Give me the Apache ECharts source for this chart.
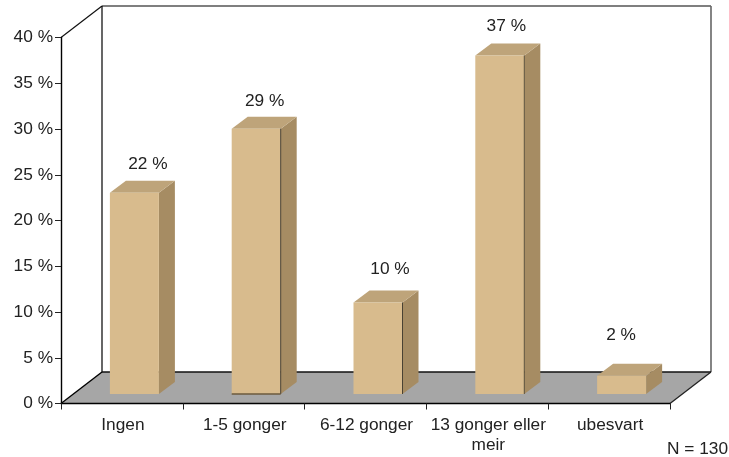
<!DOCTYPE html>
<html><head><meta charset="utf-8">
<style>html,body{margin:0;padding:0;background:#fff}#c{width:729px;height:457px}</style>
<script src="https://cdn.jsdelivr.net/npm/echarts@6/dist/echarts.min.js"></script>
</head><body><div id="c"></div>
<script>
const categories = ['Ingen', '1-5 gonger', '6-12 gonger', '13 gonger eller\nmeir', 'ubesvart'];
const values = [22, 29, 10, 37, 2];
const valueLabels = ['22 %', '29 %', '10 %', '37 %', '2 %'];
const yMax = 40;
const yStep = 5;
const footnote = 'N = 130';

// styling of the pseudo 3D box (pixels)
const wallDX = 41, wallDY = 31.5;
const barInDX = 12.5, barInDY = 9.5;
const barDX = 16, barDY = 12;
const barW = 49;
const labelShift = [[13.5, -16.5], [8.5, -15.5], [12, -21.5], [6.5, -17.5], [-0.5, -28.5]];
const edgeColor = [null, '#4a4233', '#4a4233', '#5a4f3a', null];
const FONT = '"Liberation Sans", Arial, Helvetica, sans-serif';
const FS = 17.3;
const TXT = '#222222';

const chart = echarts.init(document.getElementById('c'), null, {renderer: 'canvas'});
chart.setOption({
  animation: false,
  grid: {left: 61, top: 37.5, width: 609, height: 366, containLabel: false},
  xAxis: {
    type: 'category', data: categories,
    axisLine: {show: true, lineStyle: {color: '#000', width: 1.4}},
    axisTick: {show: true, length: 6, alignWithLabel: false, lineStyle: {color: '#222', width: 1}},
    axisLabel: {color: TXT, fontFamily: FONT, fontSize: FS, lineHeight: 20, margin: 12, interval: 0, padding: [0, 0, 0, 2]},
    z: 5
  },
  yAxis: {
    type: 'value', min: 0, max: yMax, interval: yStep,
    axisLine: {show: true, lineStyle: {color: '#000', width: 1.4}},
    axisTick: {show: true, length: 6, lineStyle: {color: '#222', width: 1}},
    axisLabel: {color: TXT, fontFamily: FONT, fontSize: FS, margin: 8, padding: [2, 0, 0, 0], formatter: v => v + ' %'},
    splitLine: {show: false}, z: 5
  },
  series: [
    {
      type: 'custom', coordinateSystem: 'cartesian2d', clip: false, z: 1, silent: true,
      data: [[0, 0]],
      renderItem(params) {
        const c = params.coordSys;
        const L = c.x, R = c.x + c.width, T = c.y, B = c.y + c.height;
        const line = (x1, y1, x2, y2, color, w) => ({type: 'line', shape: {x1, y1, x2, y2}, style: {stroke: color || '#000', lineWidth: w || 1.2}});
        return {type: 'group', children: [
          {type: 'polygon', shape: {points: [[L, B], [L + wallDX, B - wallDY], [R + wallDX, B - wallDY], [R, B]]}, style: {fill: '#a6a6a6'}},
          line(L, T, L + wallDX, T - wallDY, '#111'),
          line(L + wallDX, T - wallDY, R + wallDX, T - wallDY, '#555', 1.6),
          line(L + wallDX, T - wallDY, L + wallDX, B - wallDY, '#000'),
          line(R + wallDX, T - wallDY, R + wallDX, B - wallDY, '#666', 1.6),
          line(L + wallDX, B - wallDY, R + wallDX, B - wallDY, '#111', 1.5),
          line(L, B, L + wallDX, B - wallDY, '#000', 1.4),
          line(R, B, R + wallDX, B - wallDY, '#222', 1.3)
        ]};
      }
    },
    {
      type: 'custom', coordinateSystem: 'cartesian2d', clip: false, z: 3, silent: true,
      data: values.map((v, i) => [i, v]),
      encode: {x: 0, y: 1},
      renderItem(params, api) {
        const i = api.value(0), v = api.value(1);
        const base = api.coord([i, 0]), top = api.coord([i, v]);
        const cx = base[0] + barInDX;
        const x0 = cx - barW / 2, x1 = cx + barW / 2;
        const yB = base[1] - barInDY, yT = top[1] - barInDY;
        const children = [
          {type: 'polygon', shape: {points: [[x1, yB], [x1 + barDX, yB - barDY], [x1 + barDX, yT - barDY], [x1, yT]]}, style: {fill: '#a68c63'}},
          {type: 'polygon', shape: {points: [[x0, yT], [x0 + barDX, yT - barDY], [x1 + barDX, yT - barDY], [x1, yT]]}, style: {fill: '#bea47a'}},
          {type: 'rect', shape: {x: x0, y: yT, width: barW, height: yB - yT}, style: {fill: '#d8bb8d'}}
        ];
        if (edgeColor[i]) {
          children.push({type: 'line', shape: {x1: x1, y1: yT, x2: x1, y2: yB}, style: {stroke: edgeColor[i], lineWidth: 1}});
        }
        if (i === 1) {
          children.push({type: 'line', shape: {x1: x0, y1: yB, x2: x1, y2: yB}, style: {stroke: '#6b5a3e', lineWidth: 1.5}});
        }
        children.push({type: 'text', style: {
          x: cx + labelShift[i][0], y: yT - barDY + labelShift[i][1],
          text: valueLabels[i], fill: TXT, font: FS + 'px ' + FONT, align: 'center', verticalAlign: 'middle'
        }});
        return {type: 'group', children};
      }
    }
  ],
  graphic: [{type: 'text', left: 667, top: 441, style: {text: footnote, fill: TXT, font: FS + 'px ' + FONT}}]
});
</script></body></html>
